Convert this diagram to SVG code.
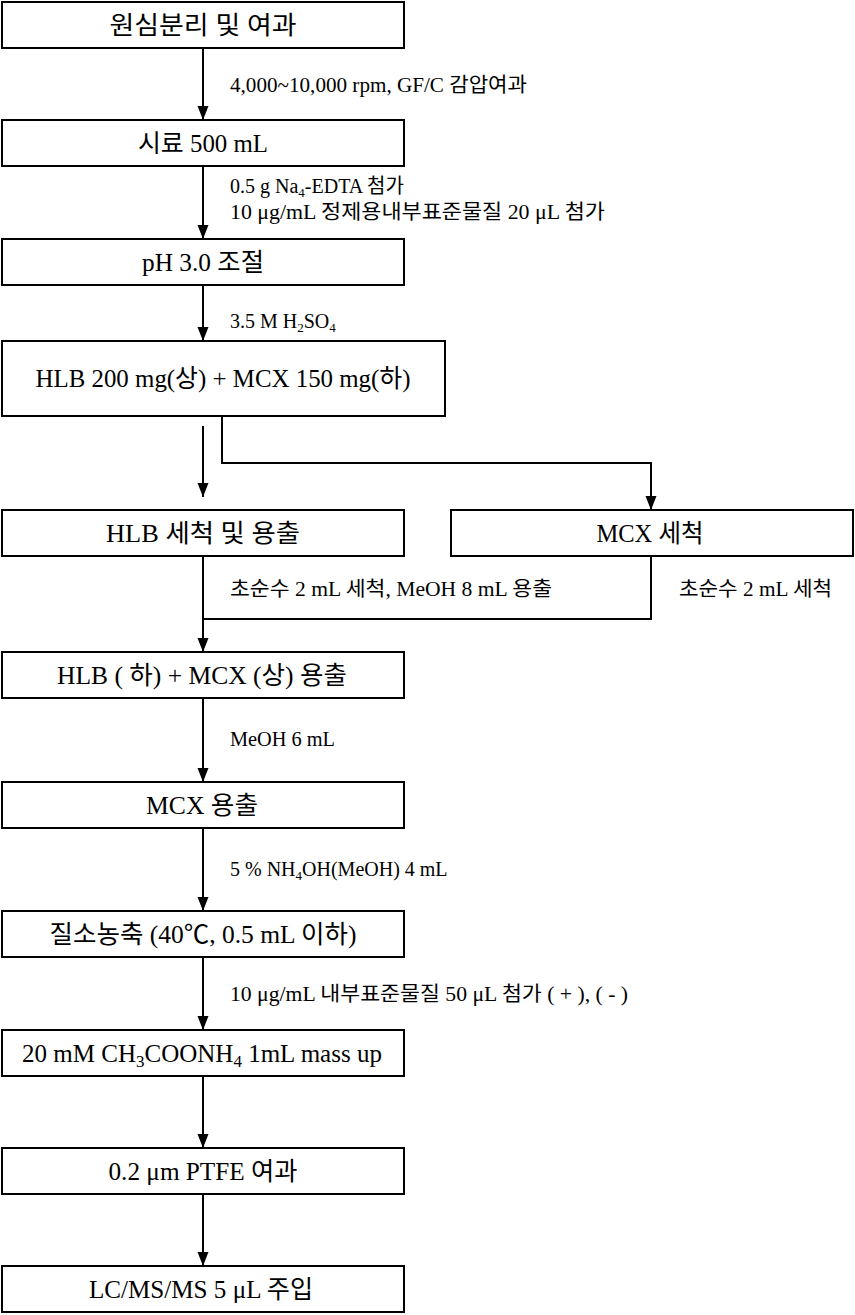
<svg xmlns="http://www.w3.org/2000/svg" width="855" height="1315" viewBox="0 0 855 1315">
<defs>
<marker id="ah" markerWidth="14" markerHeight="12" refX="14" refY="5.5" orient="auto" markerUnits="userSpaceOnUse">
<path d="M0,0 L14,5.5 L0,11 Z" fill="#000"/>
</marker>
<style>
.box{fill:#fff;stroke:#000;stroke-width:2}
.bt{font-family:"Liberation Serif","Noto Sans CJK KR",serif;font-size:25px;text-anchor:middle;fill:#000}
.lb{font-family:"Liberation Serif","Noto Sans CJK KR",serif;font-size:20px;fill:#000}
.ln{fill:none;stroke:#000;stroke-width:2}
</style>
</defs>
<rect width="855" height="1315" fill="#fff"/>
<g id="connectors">
<line class="ln" x1="203" y1="48" x2="203" y2="120" marker-end="url(#ah)"/>
<line class="ln" x1="203" y1="166" x2="203" y2="239" marker-end="url(#ah)"/>
<line class="ln" x1="203" y1="285" x2="203" y2="341" marker-end="url(#ah)"/>
<line class="ln" x1="203" y1="426" x2="203" y2="497" marker-end="url(#ah)"/>
<polyline class="ln" points="222,416 222,463 651,463 651,510" marker-end="url(#ah)"/>
<line class="ln" x1="203" y1="556" x2="203" y2="652" marker-end="url(#ah)"/>
<polyline class="ln" points="651,556 651,619 203,619"/>
<line class="ln" x1="203" y1="698" x2="203" y2="782" marker-end="url(#ah)"/>
<line class="ln" x1="203" y1="828" x2="203" y2="911" marker-end="url(#ah)"/>
<line class="ln" x1="203" y1="957" x2="203" y2="1030" marker-end="url(#ah)"/>
<line class="ln" x1="203" y1="1076" x2="203" y2="1148" marker-end="url(#ah)"/>
<line class="ln" x1="203" y1="1194" x2="203" y2="1266" marker-end="url(#ah)"/>
<text class="lb" x="230" y="92" textLength="297" lengthAdjust="spacingAndGlyphs">4,000~10,000 rpm, GF/C 감압여과</text>
<text class="lb" x="230" y="193">0.5 g Na<tspan font-size="13" dy="4">4</tspan><tspan dy="-4">-EDTA 첨가</tspan></text>
<text class="lb" x="230" y="219" textLength="375" lengthAdjust="spacingAndGlyphs">10 μg/mL 정제용내부표준물질 20 μL 첨가</text>
<text class="lb" x="230" y="328">3.5 M H<tspan font-size="13" dy="4">2</tspan><tspan dy="-4">SO</tspan><tspan font-size="13" dy="4">4</tspan></text>
<text class="lb" x="230" y="596" textLength="322" lengthAdjust="spacingAndGlyphs">초순수 2 mL 세척, MeOH 8 mL 용출</text>
<text class="lb" x="679" y="596" textLength="153" lengthAdjust="spacingAndGlyphs">초순수 2 mL 세척</text>
<text class="lb" x="230" y="746" textLength="105" lengthAdjust="spacingAndGlyphs">MeOH 6 mL</text>
<text class="lb" x="230" y="876">5 % NH<tspan font-size="13" dy="4">4</tspan><tspan dy="-4">OH(MeOH) 4 mL</tspan></text>
<text class="lb" x="230" y="1001" textLength="398" lengthAdjust="spacingAndGlyphs">10 μg/mL 내부표준물질 50 μL 첨가 ( + ), ( - )</text>
</g>
<g id="n1"><rect class="box" x="2" y="2" width="402" height="46"/><text class="bt" x="203" y="34" textLength="187" lengthAdjust="spacingAndGlyphs">원심분리 및 여과</text></g>
<g id="n2"><rect class="box" x="2" y="120" width="402" height="46"/><text class="bt" x="203" y="152" textLength="130" lengthAdjust="spacingAndGlyphs">시료 500 mL</text></g>
<g id="n3"><rect class="box" x="2" y="239" width="402" height="46"/><text class="bt" x="203" y="271" textLength="122" lengthAdjust="spacingAndGlyphs">pH 3.0 조절</text></g>
<g id="n4"><rect class="box" x="2" y="341" width="443" height="75"/><text class="bt" x="223" y="387" textLength="375" lengthAdjust="spacingAndGlyphs">HLB 200 mg(상) + MCX 150 mg(하)</text></g>
<g id="n5"><rect class="box" x="2" y="510" width="402" height="46"/><text class="bt" x="203" y="542" textLength="194" lengthAdjust="spacingAndGlyphs">HLB 세척 및 용출</text></g>
<g id="n6"><rect class="box" x="451" y="510" width="402" height="46"/><text class="bt" x="650" y="542" textLength="107" lengthAdjust="spacingAndGlyphs">MCX 세척</text></g>
<g id="n7"><rect class="box" x="2" y="652" width="402" height="46"/><text class="bt" x="202" y="684" textLength="290" lengthAdjust="spacingAndGlyphs">HLB ( 하) + MCX (상) 용출</text></g>
<g id="n8"><rect class="box" x="2" y="782" width="402" height="46"/><text class="bt" x="202" y="814" textLength="112" lengthAdjust="spacingAndGlyphs">MCX 용출</text></g>
<g id="n9"><rect class="box" x="2" y="911" width="402" height="46"/><text class="bt" x="203" y="943" textLength="307" lengthAdjust="spacingAndGlyphs">질소농축 (40℃, 0.5 mL 이하)</text></g>
<g id="n10"><rect class="box" x="2" y="1030" width="402" height="46"/><text class="bt" x="202" y="1062">20 mM CH<tspan font-size="17" dy="5">3</tspan><tspan dy="-5">COONH</tspan><tspan font-size="17" dy="5">4</tspan><tspan dy="-5"> 1mL mass up</tspan></text></g>
<g id="n11"><rect class="box" x="2" y="1148" width="402" height="46"/><text class="bt" x="203" y="1180" textLength="189" lengthAdjust="spacingAndGlyphs">0.2 μm PTFE 여과</text></g>
<g id="n12"><rect class="box" x="2" y="1266" width="402" height="46"/><text class="bt" x="201" y="1298" textLength="224" lengthAdjust="spacingAndGlyphs">LC/MS/MS 5 μL 주입</text></g>
</svg>
